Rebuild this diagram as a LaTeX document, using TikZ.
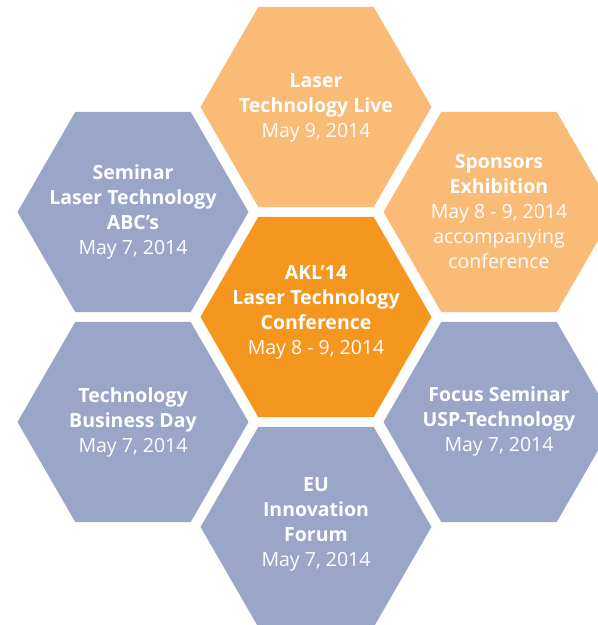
\documentclass[tikz,border=0pt]{standalone}
\usepackage{fontspec}
\setmainfont{Open Sans}
\usetikzlibrary{shapes.geometric}

\definecolor{hexblue}{RGB}{154,166,199}
\definecolor{hexpale}{RGB}{250,187,118}
\definecolor{hexorange}{RGB}{245,150,30}

\begin{document}
\begin{tikzpicture}[
x=1pt, y=-1pt,
hexa/.style={regular polygon, regular polygon sides=6, minimum size=231pt, inner sep=0pt, draw=none, fill=#1},
txt/.style={align=center, text=white, inner sep=0pt, font=\fontsize{19.5}{25}\selectfont}
]
\clip (0,0) rectangle (598,625);

% hexagons
\node[hexa=hexorange] (akl) at (316,317) {};
\node[hexa=hexpale] (live) at (316,107) {};
\node[hexa=hexpale] (sponsors) at (499,212) {};
\node[hexa=hexblue] (abc) at (133,212) {};
\node[hexa=hexblue] (business) at (133,422) {};
\node[hexa=hexblue] (usp) at (499,422) {};
\node[hexa=hexblue] (eu) at (316,527) {};

% texts
\node[txt] at ([yshift=5]akl) {\textbf{AKL’14} \\ \textbf{Laser Technology} \\ \textbf{Conference} \\ May 8 - 9, 2014};
\node[txt] at ([yshift=-1]live) {\textbf{Laser} \\ \textbf{Technology Live} \\ May 9, 2014};
\node[txt] at (sponsors) {\textbf{Sponsors} \\ \textbf{Exhibition} \\ May 8 - 9, 2014 \\ accompanying \\ conference};
\node[txt] at (abc) {\textbf{Seminar} \\ \textbf{Laser Technology} \\ \textbf{ABC’s} \\ May 7, 2014};
\node[txt] at (business) {\textbf{Technology} \\ \textbf{Business Day} \\ May 7, 2014};
\node[txt] at ([yshift=1]usp) {\textbf{Focus Seminar} \\ \textbf{USP-Technology} \\ May 7, 2014};
\node[txt] at ([yshift=3]eu) {\textbf{EU} \\ \textbf{Innovation} \\ \textbf{Forum} \\ May 7, 2014};

\end{tikzpicture}
\end{document}
